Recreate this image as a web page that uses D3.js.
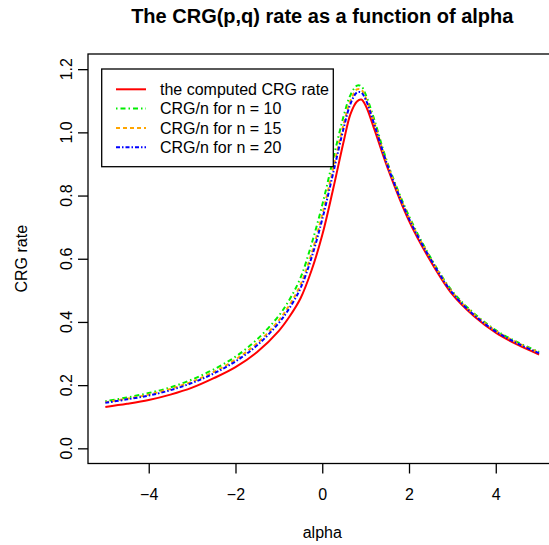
<!DOCTYPE html>
<html>
<head>
<meta charset="utf-8">
<script src="https://cdn.jsdelivr.net/npm/d3@7"></script>
<style>
body {margin: 0; background: #fff;}
text {font-family: 'Liberation Sans', Arial, sans-serif; fill: #000;}
</style>
</head>
<body>
<div id="graph"></div>
<script>
// values
var alpha = [-5, -4.5, -4, -3.5, -3, -2.5, -2, -1.5, -1, -0.75, -0.5, -0.25, 0, 0.25, 0.5, 0.65, 0.8, 0.9, 1, 1.2, 1.5, 2, 2.5, 3, 3.5, 4, 4.5, 5]

var crgRate = [0.131, 0.141, 0.153, 0.170, 0.192, 0.222, 0.257, 0.305, 0.372, 0.418, 0.475, 0.562, 0.675, 0.820, 0.975, 1.058, 1.098, 1.104, 1.085, 1.010, 0.890, 0.720, 0.592, 0.487, 0.418, 0.366, 0.328, 0.297]
var crgN10 = [0.149, 0.161, 0.175, 0.193, 0.218, 0.250, 0.290, 0.345, 0.420, 0.472, 0.540, 0.645, 0.770, 0.915, 1.055, 1.118, 1.148, 1.146, 1.120, 1.040, 0.905, 0.735, 0.603, 0.497, 0.427, 0.374, 0.336, 0.305]
var crgN15 = [0.146, 0.157, 0.170, 0.188, 0.211, 0.242, 0.281, 0.333, 0.405, 0.455, 0.518, 0.615, 0.740, 0.885, 1.030, 1.100, 1.136, 1.135, 1.110, 1.030, 0.900, 0.730, 0.600, 0.494, 0.424, 0.372, 0.334, 0.303]
var crgN20 = [0.144, 0.155, 0.167, 0.184, 0.207, 0.237, 0.275, 0.326, 0.397, 0.445, 0.507, 0.602, 0.725, 0.870, 1.017, 1.090, 1.126, 1.126, 1.104, 1.025, 0.897, 0.727, 0.598, 0.492, 0.422, 0.370, 0.332, 0.301]

var xTicks = [-4, -2, 0, 2, 4]
var yTicks = [0, 0.2, 0.4, 0.6, 0.8, 1.0, 1.2]
var labels = ['the computed CRG rate', 'CRG/n for n = 10', 'CRG/n for n = 15', 'CRG/n for n = 20']

var series = [
  {name: labels[0], values: crgRate, color: '#ff0000', dash: null},
  {name: labels[1], values: crgN10, color: '#00ee00', dash: '1.5,3,5,3'},
  {name: labels[2], values: crgN15, color: '#ffa500', dash: '4,3'},
  {name: labels[3], values: crgN20, color: '#0000ff', dash: '4,2,1.5,2'}
]

var svg = d3.select('#graph').append('svg')
  .attr('width', 549).attr('height', 545)

var m = {left: 88, right: 556.5, top: 54, bottom: 463.5}
var x = d3.scaleLinear().domain([-5.4, 5.4]).range([m.left, m.right])
var y = d3.scaleLinear().domain([-0.048, 1.248]).range([m.bottom, m.top])

// x axis
var xAxis = svg.append('g')
  .attr('transform', 'translate(0,' + m.bottom + ')')
  .call(d3.axisBottom(x).tickValues(xTicks).tickSize(10).tickPadding(15))
xAxis.select('.domain').remove()
xAxis.selectAll('line').attr('stroke-width', 1.3)
xAxis.selectAll('text').attr('font-size', 16).attr('font-family', null)

// y axis, labels turned like R's
var yAxis = svg.append('g')
  .attr('transform', 'translate(' + m.left + ',0)')
  .call(d3.axisLeft(y).tickValues(yTicks).tickSize(10).tickFormat(''))
yAxis.select('.domain').remove()
yAxis.selectAll('line').attr('stroke-width', 1.3)

svg.selectAll('.ylab').data(yTicks).join('text')
  .attr('class', 'ylab')
  .attr('transform', d => 'translate(72,' + y(d) + ') rotate(-90)')
  .attr('text-anchor', 'middle')
  .attr('font-size', 16)
  .text(d3.format('.1f'))

svg.append('rect')
  .attr('x', m.left).attr('y', m.top)
  .attr('width', m.right - m.left).attr('height', m.bottom - m.top)
  .attr('fill', 'none').attr('stroke', '#000').attr('stroke-width', 1.3)

var line = d3.line()
  .x((d, i) => x(alpha[i]))
  .y(d => y(d))
  .curve(d3.curveCatmullRom.alpha(0.5))

svg.selectAll('.curve').data(series).join('path')
  .attr('class', 'curve')
  .attr('d', d => line(d.values))
  .attr('fill', 'none')
  .attr('stroke', d => d.color)
  .attr('stroke-width', 2)
  .attr('stroke-dasharray', d => d.dash)

// legend
var lg = svg.append('g')
lg.append('rect')
  .attr('x', 101.7).attr('y', 69).attr('width', 231.6).attr('height', 97.7)
  .attr('fill', '#fff').attr('stroke', '#000').attr('stroke-width', 1.3)

var item = lg.selectAll('.item').data(series).join('g')
  .attr('class', 'item')
  .attr('transform', (d, i) => 'translate(0,' + (89.3 + i * 19.3) + ')')
item.append('line')
  .attr('x1', 116).attr('x2', 146)
  .attr('stroke', d => d.color).attr('stroke-width', 2)
  .attr('stroke-dasharray', d => d.dash)
item.append('text')
  .attr('x', 160).attr('dy', '0.36em')
  .attr('font-size', 16)
  .text(d => d.name)

// titles
svg.append('text')
  .attr('x', (m.left + m.right) / 2).attr('y', 23)
  .attr('text-anchor', 'middle')
  .attr('font-size', 20).attr('font-weight', 'bold')
  .text('The CRG(p,q) rate as a function of alpha')

svg.append('text')
  .attr('x', (m.left + m.right) / 2).attr('y', 538)
  .attr('text-anchor', 'middle').attr('font-size', 16)
  .text('alpha')

svg.append('text')
  .attr('transform', 'translate(27,' + (m.top + m.bottom) / 2 + ') rotate(-90)')
  .attr('text-anchor', 'middle').attr('font-size', 16)
  .text('CRG rate')
</script>
</body>
</html>
